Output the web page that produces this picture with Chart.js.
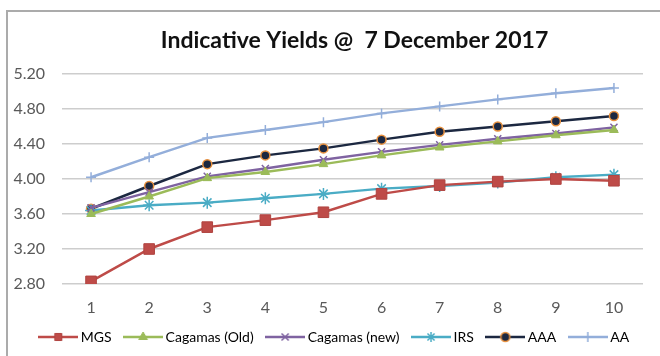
<!DOCTYPE html>
<html>
<head>
<meta charset="utf-8">
<script src="https://cdn.jsdelivr.net/npm/chart.js@4/dist/chart.umd.min.js"></script>
<style>
  html, body { margin: 0; padding: 0; background: #ffffff; }
  #wrap { position: absolute; left: 0; top: 0; width: 660px; height: 356px; }
</style>
</head>
<body>
<div id="wrap"><canvas id="yields" width="660" height="356"></canvas></div>
<script>
// Tenor buckets along the x axis
const tenors = ['1', '2', '3', '4', '5', '6', '7', '8', '9', '10'];

// Yield curves (%)
const mgs        = [2.83, 3.20, 3.45, 3.53, 3.62, 3.83, 3.93, 3.97, 4.00, 3.98];
const cagamasOld = [3.60, 3.80, 4.01, 4.08, 4.17, 4.27, 4.36, 4.43, 4.50, 4.56];
const cagamasNew = [3.67, 3.85, 4.03, 4.12, 4.22, 4.31, 4.39, 4.46, 4.52, 4.59];
const irs        = [3.64, 3.70, 3.73, 3.78, 3.83, 3.89, 3.92, 3.96, 4.02, 4.05];
const aaa        = [3.66, 3.92, 4.17, 4.27, 4.35, 4.45, 4.54, 4.60, 4.66, 4.72];
const aa         = [4.02, 4.25, 4.47, 4.56, 4.65, 4.75, 4.83, 4.91, 4.98, 5.04];

// Value axis ticks
const yTicks = [2.80, 3.20, 3.60, 4.00, 4.40, 4.80, 5.20];

const chartTitle = 'Indicative Yields @  7 December 2017';

const FONT = 'Lato, "Open Sans", "DejaVu Sans", sans-serif';

function series(label, data, color, style, radius, fill, border, bw) {
  return {
    label: label,
    data: data,
    borderColor: color,
    backgroundColor: color,
    borderWidth: 2.5,
    tension: 0,
    pointStyle: style,
    pointRadius: radius,
    pointHoverRadius: radius,
    pointBackgroundColor: fill,
    pointBorderColor: border,
    pointBorderWidth: bw
  };
}

const datasets = [
  series('MGS', mgs, '#BE4B48', 'rect', 7.5, '#BE4B48', '#B04440', 1),
  series('Cagamas (Old)', cagamasOld, '#9BBB59', 'triangle', 5, '#9BBB59', '#9BBB59', 1),
  series('Cagamas (new)', cagamasNew, '#7F63A1', 'crossRot', 5, '#7F63A1', '#7F63A1', 1.5),
  series('IRS', irs, '#4AACC5', 'star', 6, '#4AACC5', '#4AACC5', 1.5),
  series('AAA', aaa, '#1C2841', 'circle', 4.5, '#1C2841', '#E8913F', 1.5),
  series('AA', aa, '#93AEDA', 'cross', 5, '#93AEDA', '#93AEDA', 1.5)
];

// Legend swatch: a short line with the series marker in the middle
function legendIcon(ds) {
  const c = document.createElement('canvas');
  c.width = 40; c.height = 16;
  const g = c.getContext('2d');
  g.strokeStyle = ds.borderColor;
  g.lineWidth = 2.5;
  g.beginPath(); g.moveTo(0, 8); g.lineTo(40, 8); g.stroke();
  g.fillStyle = ds.pointBackgroundColor;
  g.strokeStyle = ds.pointBorderColor;
  g.lineWidth = ds.pointBorderWidth;
  const r = Math.min(ds.pointRadius, 5);
  if (Chart.helpers && Chart.helpers.drawPoint) {
    Chart.helpers.drawPoint(g, { pointStyle: ds.pointStyle, radius: r, borderWidth: ds.pointBorderWidth, rotation: 0 }, 20, 8);
  }
  return c;
}

// Outer frame and centred title
const framePlugin = {
  id: 'frameAndTitle',
  beforeDraw(chart) {
    const ctx = chart.ctx;
    ctx.save();
    ctx.strokeStyle = '#ABABAB';
    ctx.lineWidth = 2;
    ctx.beginPath();
    ctx.moveTo(7, 356);
    ctx.lineTo(7, 11);
    ctx.lineTo(660, 11);
    ctx.stroke();
    ctx.restore();
  },
  afterLayout(chart) {
    // nudge the legend row a little to the right
    if (chart.legend) {
      chart.legend.left += 6;
      chart.legend.right += 6;
    }
  },
  afterDraw(chart) {
    const ctx = chart.ctx;
    const a = chart.chartArea;
    ctx.save();
    ctx.fillStyle = '#111111';
    ctx.font = 'bold 23px ' + FONT;
    ctx.textAlign = 'center';
    ctx.textBaseline = 'middle';
    ctx.fillText(chartTitle, (a.left + a.right) / 2 + 2, 41);
    ctx.restore();
  }
};

new Chart(document.getElementById('yields'), {
  type: 'line',
  data: { labels: tenors, datasets: datasets },
  plugins: [framePlugin],
  options: {
    responsive: false,
    animation: false,
    events: [],
    layout: { padding: { left: 0, right: 0, top: 74, bottom: 2 } },
    plugins: {
      title: { display: false },
      tooltip: { enabled: false },
      legend: {
        position: 'bottom',
        labels: {
          usePointStyle: true,
          pointStyleWidth: 31,
          padding: 16,
          color: '#404040',
          font: { family: FONT, size: 14 },
          generateLabels(chart) {
            return chart.data.datasets.map((ds, i) => ({
              text: ds.label,
              pointStyle: legendIcon(ds),
              fillStyle: ds.borderColor,
              strokeStyle: ds.borderColor,
              lineWidth: 0,
              hidden: false,
              datasetIndex: i
            }));
          }
        }
      }
    },
    scales: {
      x: {
        type: 'category',
        offset: true,
        grid: { display: false, drawTicks: false },
        border: { display: false },
        ticks: { color: '#595959', padding: 14, font: { family: FONT, size: 16 } },
        afterFit(scale) { scale.height = 30; }
      },
      y: {
        position: 'left',
        min: 2.8,
        max: 5.2,
        afterBuildTicks(scale) { scale.ticks = yTicks.map(v => ({ value: v })); },
        grid: { color: '#CDCDCD', lineWidth: 1.5, drawTicks: false },
        border: { display: false },
        ticks: {
          color: '#595959',
          padding: 17,
          font: { family: FONT, size: 16 },
          callback: v => Number(v).toFixed(2)
        },
        afterFit(scale) { scale.width = 62; }
      },
      yRightGap: {
        position: 'right',
        display: true,
        grid: { display: false, drawTicks: false },
        border: { display: false },
        ticks: { display: false },
        afterFit(scale) { scale.width = 17; }
      }
    }
  }
});
</script>
</body>
</html>
